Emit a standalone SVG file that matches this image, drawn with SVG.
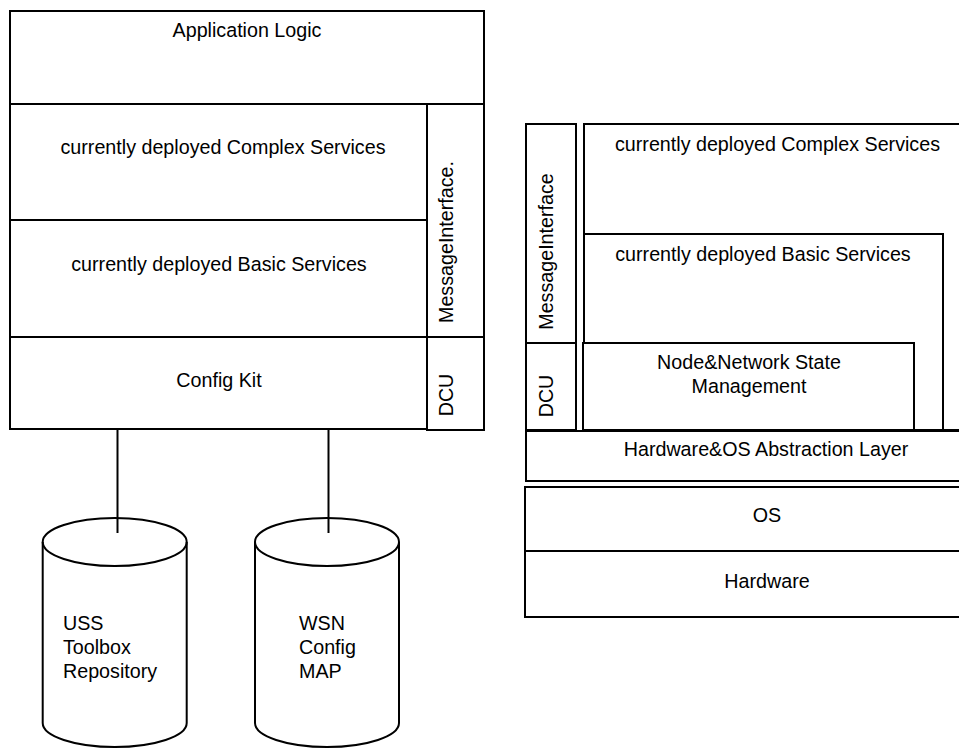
<svg xmlns="http://www.w3.org/2000/svg" width="959" height="749" viewBox="0 0 959 749">
<style>
.b{fill:#fff;stroke:#000;stroke-width:2}
.t{font-family:"Liberation Sans",Arial,sans-serif;font-size:19.7px;fill:#000}
.m{text-anchor:middle}
.c{stroke:#000;stroke-width:2;fill:none}
</style>
<rect width="959" height="749" fill="#fff"/>
<g id="app-logic"><rect class="b" x="10" y="11" width="474" height="93"/><text class="t m" x="247" y="37">Application Logic</text></g>
<g id="left-complex"><rect class="b" x="10" y="104" width="417" height="116"/><text class="t m" x="223" y="154">currently deployed Complex Services</text></g>
<g id="left-basic"><rect class="b" x="10" y="220" width="417" height="117"/><text class="t m" x="219" y="271">currently deployed Basic Services</text></g>
<g id="config-kit"><rect class="b" x="10" y="337" width="417" height="92"/><text class="t m" x="219" y="387">Config Kit</text></g>
<g id="left-msg"><rect class="b" x="427" y="104" width="57" height="233"/><text class="t m" transform="translate(453 242) rotate(-90)">MessageInterface.</text></g>
<g id="left-dcu"><rect class="b" x="427" y="337" width="57" height="93"/><text class="t m" transform="translate(453 395) rotate(-90)">DCU</text></g>
<g id="uss-repo"><path class="b" d="M42.7 542 A72 24 0 0 1 186.7 542 L186.7 723 A72 24 0 0 1 42.7 723 Z"/><path class="c" d="M42.7 542 A72 24 0 0 0 186.7 542"/><text class="t" x="63" y="630">USS</text><text class="t" x="63" y="654">Toolbox</text><text class="t" x="63" y="678">Repository</text></g>
<g id="wsn-map"><path class="b" d="M255 542 A72 24 0 0 1 399 542 L399 723 A72 24 0 0 1 255 723 Z"/><path class="c" d="M255 542 A72 24 0 0 0 399 542"/><text class="t" x="299" y="630">WSN</text><text class="t" x="299" y="654">Config</text><text class="t" x="299" y="678">MAP</text></g>
<g id="connectors"><line class="c" x1="117.5" y1="429" x2="117.5" y2="533"/><line class="c" x1="328.5" y1="429" x2="328.5" y2="533"/></g>
<g id="right-msg"><rect class="b" x="526" y="124" width="50" height="219"/><text class="t m" transform="translate(553 251.5) rotate(-90)">MessageInterface</text></g>
<g id="right-dcu"><rect class="b" x="526" y="343" width="50" height="87"/><text class="t m" transform="translate(553 396) rotate(-90)">DCU</text></g>
<g id="right-complex"><rect class="b" x="584" y="124" width="380" height="306"/><text class="t m" x="777.5" y="151">currently deployed Complex Services</text></g>
<g id="right-basic"><rect class="b" x="584" y="234" width="359" height="196"/><text class="t m" x="763" y="261">currently deployed Basic Services</text></g>
<g id="node-state"><rect class="b" x="583" y="343" width="331" height="87"/><text class="t m" x="749" y="369">Node&amp;Network State</text><text class="t m" x="749" y="393">Management</text></g>
<g id="hal"><rect class="b" x="526" y="431" width="440" height="50"/><text class="t m" x="766" y="456">Hardware&amp;OS Abstraction Layer</text></g>
<g id="os"><rect class="b" x="525" y="487" width="440" height="64"/><text class="t m" x="767" y="522">OS</text></g>
<g id="hardware"><rect class="b" x="525" y="551" width="440" height="66"/><text class="t m" x="767" y="588">Hardware</text></g>
</svg>
